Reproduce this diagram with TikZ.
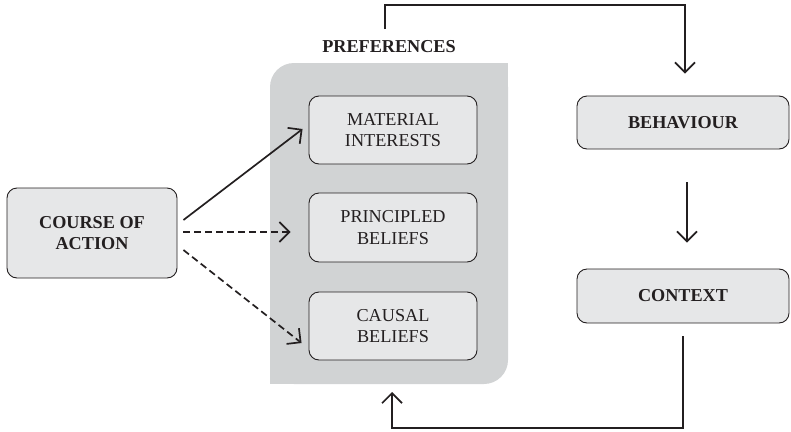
\documentclass[tikz,border=0pt]{standalone}
\usepackage{fontspec}
\setmainfont{Liberation Serif}
\usetikzlibrary{arrows.meta}
\definecolor{ink}{HTML}{231F20}
\definecolor{boxfill}{HTML}{E6E7E8}
\definecolor{panelfill}{HTML}{D1D3D4}
\tikzset{
  pbox/.style={draw=ink, line width=0.9pt, fill=boxfill, rounded corners=10pt,
    align=center, text=ink, inner sep=0pt,
    font=\fontsize{18.2}{21.5}\selectfont},
  bbox/.style={pbox, font=\fontsize{18.2}{21.5}\selectfont\bfseries},
  conn/.style={draw=ink, line width=1.7pt, -{Straight Barb[length=10pt,width=20pt]}},
  dconn/.style={conn, dash pattern=on 7pt off 4pt},
  fb/.style={draw=ink, line width=1.7pt, -{Straight Barb[length=10pt,width=20pt]}}
}
\begin{document}
\begin{tikzpicture}[x=1pt, y=-1pt]
\useasboundingbox (0,0) rectangle (791,431);
% preferences panel
\fill[panelfill, rounded corners=24pt] (270,63) rectangle (508,384);
\fill[panelfill] (480,63) rectangle (508,90);
\fill[panelfill] (270,356) rectangle (298,384);
\node[font=\fontsize{18.2}{21}\selectfont\bfseries, text=ink] (pref) at (389,47) {PREFERENCES};
% boxes
\node[bbox, minimum width=170pt, minimum height=90pt] (coa) at (92,233) {COURSE OF\\ACTION};
\node[pbox, minimum width=168pt, minimum height=68pt] (mat) at (393,130) {MATERIAL\\INTERESTS};
\node[pbox, minimum width=168pt, minimum height=69pt] (pri) at (393,227.5) {PRINCIPLED\\BELIEFS};
\node[pbox, minimum width=168pt, minimum height=68pt] (cau) at (393,326) {CAUSAL\\BELIEFS};
\node[bbox, minimum width=212pt, minimum height=53pt] (beh) at (683,122.5) {BEHAVIOUR};
\node[bbox, minimum width=212pt, minimum height=54pt] (con) at (683,296) {CONTEXT};
% arrows from course of action
\draw[conn] ([xshift=6pt,yshift=13pt]coa.east) -- ([xshift=-6pt,yshift=1pt]mat.west);
\draw[dconn] ([xshift=6pt,yshift=1pt]coa.east) -- ([xshift=-18pt,yshift=1pt]coa.east -| pri.west);
\draw[dconn] ([xshift=6pt,yshift=-17pt]coa.east) -- ([xshift=-7pt,yshift=-17pt]cau.west);
% feedback loop
\coordinate (tstart) at (385,29);
\coordinate (tcorner) at (685,5);
\coordinate (btip) at (392,392);
\coordinate (bcorner) at (683,428);
\draw[fb] (tstart) |- (tcorner) -- ([xshift=2pt,yshift=22pt]beh.north);
\draw[fb] ([xshift=4pt,yshift=-33pt]beh.south) -- ([xshift=4pt,yshift=26pt]con.north);
\draw[fb] ([yshift=-13pt]con.south) -- (bcorner) -| (btip);
\end{tikzpicture}
\end{document}
